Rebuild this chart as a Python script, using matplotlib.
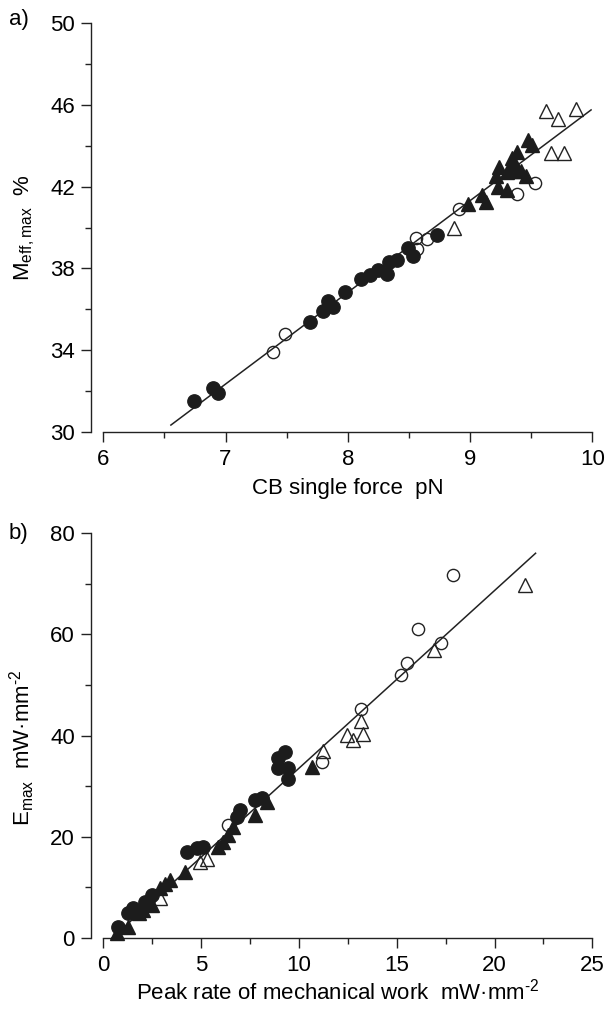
import matplotlib
matplotlib.use('Agg')
import matplotlib.pyplot as plt
from matplotlib.ticker import MultipleLocator, FixedLocator

plt.rcParams['font.family'] = ['Liberation Sans', 'DejaVu Sans']
plt.rcParams['mathtext.fontset'] = 'custom'
plt.rcParams['mathtext.rm'] = 'Liberation Sans'

# panel a: CB single force (pN) vs Meff,max (%)
a_fc_x = [6.74, 6.90, 6.94, 7.69, 7.80, 7.84, 7.88, 7.98, 8.11, 8.18, 8.25, 8.32, 8.34, 8.40, 8.49, 8.53, 8.73]
a_fc_y = [31.5, 32.15, 31.9, 35.4, 35.9, 36.4, 36.1, 36.85, 37.5, 37.7, 37.9, 37.75, 38.3, 38.4, 39.0, 38.6, 39.65]
a_oc_x = [7.39, 7.49, 8.555, 8.565, 8.65, 8.91, 9.38, 9.53]
a_oc_y = [33.9, 34.8, 39.5, 38.95, 39.45, 40.9, 41.65, 42.2]
a_ft_x = [8.98, 9.10, 9.13, 9.21, 9.23, 9.24, 9.30, 9.32, 9.34, 9.38, 9.39, 9.42, 9.46, 9.47, 9.51, 9.30, 9.36]
a_ft_y = [41.15, 41.6, 41.25, 42.5, 42.0, 42.95, 41.85, 42.8, 43.4, 43.7, 42.75, 42.75, 42.5, 44.3, 44.05, 42.7, 43.1]
a_ot_x = [8.87, 9.62, 9.72, 9.87, 9.66, 9.77]
a_ot_y = [40.0, 45.7, 45.3, 45.8, 43.65, 43.65]
a_fit_x = [6.553, 9.99]
a_fit_y = [30.34, 45.75]
a_yticks = [30, 34, 38, 42, 46, 50]

# panel b: peak rate of mechanical work vs Emax (mW/mm2)
b_fc_x = [9.30, 8.95, 8.95, 9.46, 9.46, 7.76, 8.10, 6.99, 6.83, 5.11, 4.77, 4.30, 1.54, 1.28, 2.13, 2.47, 0.76]
b_fc_y = [36.8, 35.5, 33.5, 33.5, 31.5, 27.3, 27.6, 25.3, 24.0, 18.0, 17.7, 16.9, 5.9, 4.9, 7.2, 8.5, 2.2]
b_ft_x = [0.68, 1.28, 2.04, 2.47, 2.90, 3.41, 4.17, 5.88, 6.14, 6.39, 6.65, 7.76, 8.35, 10.65, 3.15, 1.80]
b_ft_y = [0.9, 2.2, 5.5, 6.5, 9.8, 11.5, 13.1, 18.0, 19.0, 20.3, 22.0, 24.3, 26.9, 33.8, 10.6, 5.0]
b_oc_x = [6.39, 11.17, 13.16, 15.2, 15.55, 17.25, 16.07, 17.9]
b_oc_y = [22.3, 34.8, 45.2, 52.0, 54.4, 58.2, 61.0, 71.8]
b_ot_x = [2.90, 4.94, 5.29, 11.22, 12.45, 12.76, 13.26, 13.16, 16.92, 21.57]
b_ot_y = [7.9, 15.1, 15.7, 37.0, 40.1, 39.1, 40.2, 42.9, 56.9, 69.7]
b_fit_x = [0.45, 22.1]
b_fit_y = [0.0, 76.0]

W, H = 607, 1009
fig = plt.figure(figsize=(W / 100, H / 100), dpi=100)
ax1 = fig.add_axes([103.3 / W, 1 - 432 / H, 489 / W, 409 / H])
ax2 = fig.add_axes([103.3 / W, 1 - 938 / H, 489 / W, 405 / H])


def draw(ax, fit_x, fit_y, oc, ot, fc, ft):
    ax.plot(fit_x, fit_y, color='#222222', lw=1.1, zorder=2)
    ax.plot(oc[0], oc[1], 'o', ms=8.8, mfc='none', mec='#222222', mew=1.0, ls='none', zorder=3, clip_on=False)
    ax.plot(ot[0], ot[1], '^', ms=10, mfc='none', mec='#222222', mew=1.0, ls='none', zorder=3, clip_on=False)
    ax.plot(fc[0], fc[1], 'o', ms=9.6, color='#1c1c1c', ls='none', zorder=4, clip_on=False)
    ax.plot(ft[0], ft[1], '^', ms=10, color='#1c1c1c', ls='none', zorder=4, clip_on=False)
    for s in ['top', 'right']:
        ax.spines[s].set_visible(False)
    ax.spines['left'].set_position(('outward', 8.5))     # y axis sits apart from the x axis
    for s in ['left', 'bottom']:
        ax.spines[s].set_linewidth(1.0)
        ax.spines[s].set_color('#222222')
    ax.tick_params(which='major', direction='out', length=7, width=1.0, labelsize=16, pad=5, color='#222222')
    ax.tick_params(which='minor', direction='out', length=4.3, width=1.0, color='#222222')


draw(ax1, a_fit_x, a_fit_y, (a_oc_x, a_oc_y), (a_ot_x, a_ot_y), (a_fc_x, a_fc_y), (a_ft_x, a_ft_y))
ax1.set_xlim(6, 10)
ax1.set_ylim(30, 50)
ax1.xaxis.set_major_locator(MultipleLocator(1))
ax1.xaxis.set_minor_locator(MultipleLocator(0.5))
ax1.yaxis.set_major_locator(FixedLocator(a_yticks))
ax1.yaxis.set_minor_locator(MultipleLocator(2))
ax1.set_xlabel('CB single force  pN', fontsize=16, labelpad=6)
ax1.set_ylabel(r'M$_{\mathregular{eff,max}}$  %', fontsize=16)
ax1.yaxis.set_label_coords(-0.135, 0.5)

unit = 'mW·mm$^{\\mathregular{\u20102}}$'    # hyphen, not minus, in the exponent
draw(ax2, b_fit_x, b_fit_y, (b_oc_x, b_oc_y), (b_ot_x, b_ot_y), (b_fc_x, b_fc_y), (b_ft_x, b_ft_y))
ax2.set_xlim(0, 25)
ax2.set_ylim(0, 80)
ax2.xaxis.set_major_locator(MultipleLocator(5))
ax2.xaxis.set_minor_locator(MultipleLocator(2.5))
ax2.yaxis.set_major_locator(MultipleLocator(20))
ax2.yaxis.set_minor_locator(MultipleLocator(10))
ax2.set_xlabel('Peak rate of mechanical work  ' + unit, fontsize=16, labelpad=6)
ax2.xaxis.set_label_coords(0.48, -0.1)
ax2.set_ylabel('E$_{\\mathregular{max}}$  ' + unit, fontsize=16)
ax2.yaxis.set_label_coords(-0.135, 0.47)

fig.text(9 / W, 1 - 20 / H, 'a)', fontsize=16, va='center', ha='left')
fig.text(9 / W, 1 - 534 / H, 'b)', fontsize=16, va='center', ha='left')

fig.savefig('out.png', dpi=100)
